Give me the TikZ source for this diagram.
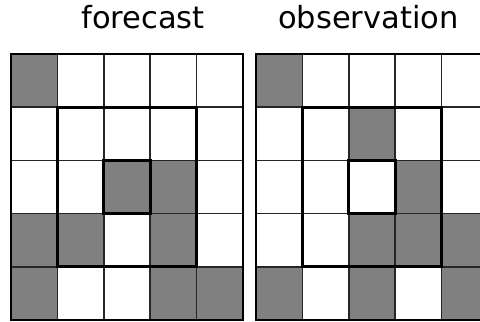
\documentclass[tikz,border=0pt]{standalone}
\usepackage{fontspec}
\setmainfont{DejaVu Sans}
\usepackage{tikz}

\begin{document}
\begin{tikzpicture}[x=0.75pt,y=-0.75pt]
\tikzset{thin grid/.style={draw=black!85,line width=1.1pt},
  thick box/.style={draw=black,line width=2.1pt},
  title/.style={anchor=base,font=\fontsize{22.9}{27}\selectfont}}
\useasboundingbox (0,0) rectangle (480,322);
\def\cw{46.4}
\def\ch{53.2}
\node[title] (Tf) at (143,28) {forecast};
\node[title] (To) at (368.5,28) {observation};
\foreach \gx/\cells in {11/{0/0,2/2,3/2,0/3,1/3,3/3,0/4,3/4,4/4},
                        256/{0/0,2/1,3/2,2/3,3/3,4/3,0/4,2/4,4/4}}{
  \begin{scope}[shift={(\gx,54)}]
  \foreach \c/\r in \cells
    \fill[black!50] (\c*\cw,\r*\ch) rectangle ++(\cw,\ch);
  \foreach \i in {1,...,4}{
    \draw[thin grid] (\i*\cw,0) -- (\i*\cw,5*\ch);
    \draw[thin grid] (0,\i*\ch) -- (5*\cw,\i*\ch);
  }
  \draw[thick box] (\cw,\ch) rectangle (4*\cw,4*\ch);
  \draw[thick box] (2*\cw,2*\ch) rectangle (3*\cw,3*\ch);
  \draw[thick box] (0,0) rectangle (5*\cw,5*\ch);
  \end{scope}
}
\end{tikzpicture}
\end{document}
